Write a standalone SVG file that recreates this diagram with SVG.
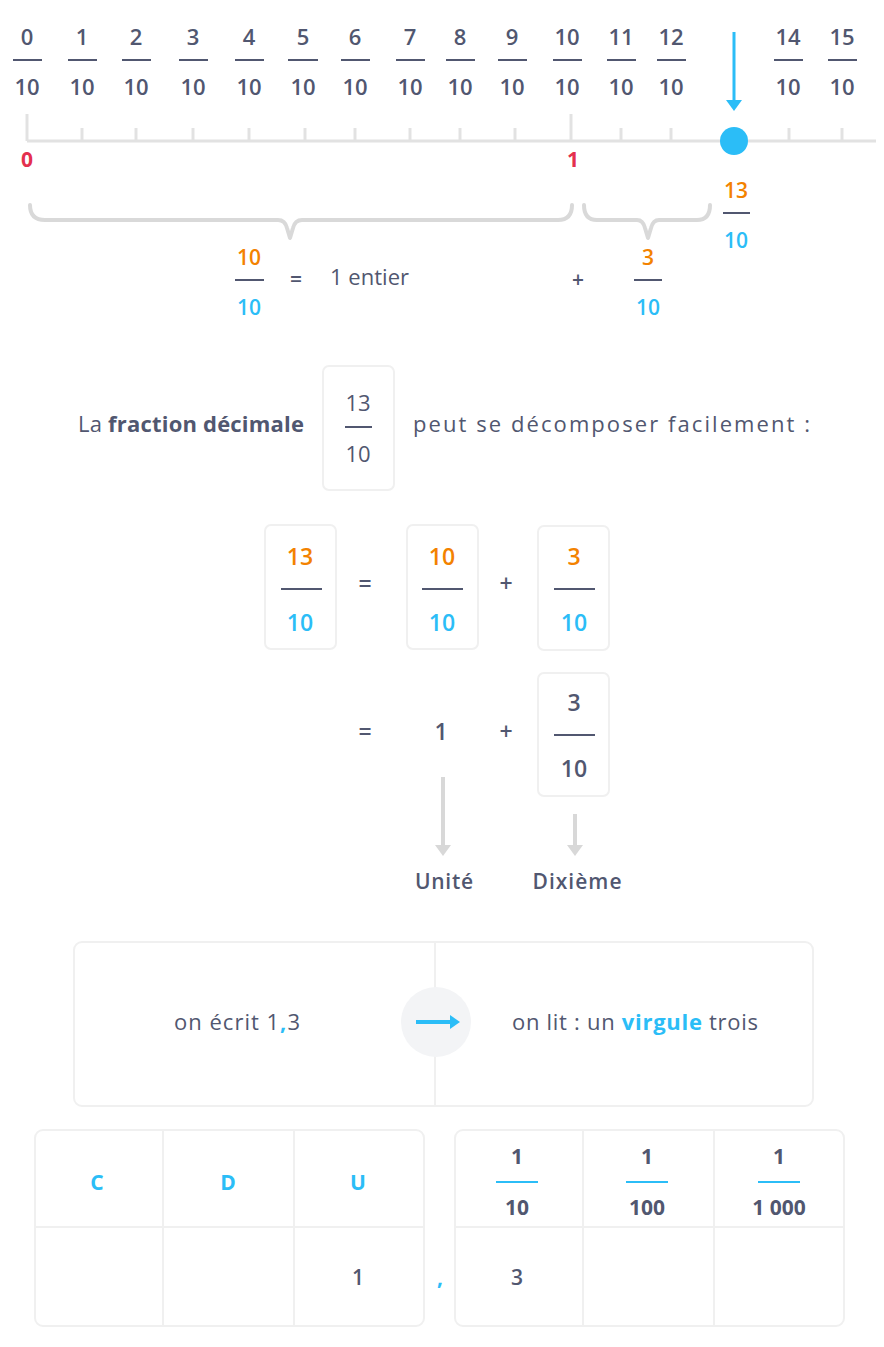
<svg xmlns="http://www.w3.org/2000/svg" width="884" height="1347" viewBox="0 0 884 1347">
<defs>
<style>
text{font-family:"Open Sans",Lato,"Liberation Sans",sans-serif;fill:#515770;text-anchor:middle}
.n{font-size:22px;font-weight:600}
.nb{font-size:23px;font-weight:600}
.t{font-size:20px;font-weight:600}
.tl{font-size:21px;font-weight:600}
.tr{font-size:22px;font-weight:500}
.b{font-weight:700}
.or{fill:#f38200}
.bl{fill:#2bbdf7}
.rd{fill:#e4304e;font-size:21px;font-weight:700}
.bar{stroke:#515770;stroke-width:2}
.tick{stroke:#e2e2e2;stroke-width:3}
.brace{fill:none;stroke:#d9d9d9;stroke-width:4;stroke-linecap:round;stroke-linejoin:round}
.box{fill:#fff;stroke:#f0f0f0;stroke-width:2}
.grid{stroke:#f0f0f0;stroke-width:2}
.garrow{stroke:#d8d8d8;stroke-width:4}
.ghead{fill:#d8d8d8}
.st{text-anchor:start}
</style>
</defs>
<rect width="884" height="1347" fill="#fff"/>

<g id="numberline">
<line x1="27" y1="141" x2="876" y2="141" class="tick"/>
<line x1="27" y1="114" x2="27" y2="141" class="tick"/>
<line x1="571" y1="114" x2="571" y2="141" class="tick"/>
<g class="tick">
<line x1="82" y1="128" x2="82" y2="141"/><line x1="136" y1="128" x2="136" y2="141"/><line x1="193" y1="128" x2="193" y2="141"/><line x1="249" y1="128" x2="249" y2="141"/><line x1="305" y1="128" x2="305" y2="141"/><line x1="355" y1="128" x2="355" y2="141"/><line x1="410" y1="128" x2="410" y2="141"/><line x1="460" y1="128" x2="460" y2="141"/><line x1="515" y1="128" x2="515" y2="141"/><line x1="621" y1="128" x2="621" y2="141"/><line x1="671" y1="128" x2="671" y2="141"/><line x1="789" y1="128" x2="789" y2="141"/><line x1="842" y1="128" x2="842" y2="141"/>
</g>
<text x="27" y="167" class="rd">0</text>
<text x="573" y="167" class="rd">1</text>
<circle cx="734" cy="141" r="14" fill="#2bbdf7"/>
<line x1="734" y1="32" x2="734" y2="102" stroke="#2bbdf7" stroke-width="3"/>
<path d="M726,100 L742,100 L734,111 Z" fill="#2bbdf7"/>
</g>

<g id="nl-fractions" class="n">
<g class="bar">
<line x1="13" y1="60" x2="42" y2="60"/><line x1="68" y1="60" x2="97" y2="60"/><line x1="122" y1="60" x2="151" y2="60"/><line x1="179" y1="60" x2="208" y2="60"/><line x1="235" y1="60" x2="264" y2="60"/><line x1="288" y1="60" x2="318" y2="60"/><line x1="341" y1="60" x2="370" y2="60"/><line x1="396" y1="60" x2="425" y2="60"/><line x1="446" y1="60" x2="475" y2="60"/><line x1="498" y1="60" x2="527" y2="60"/><line x1="553" y1="60" x2="582" y2="60"/><line x1="607" y1="60" x2="636" y2="60"/><line x1="657" y1="60" x2="686" y2="60"/><line x1="774" y1="60" x2="803" y2="60"/><line x1="828" y1="60" x2="857" y2="60"/>
</g>
<text x="27" y="45">0</text><text x="27" y="95">10</text>
<text x="82" y="45">1</text><text x="82" y="95">10</text>
<text x="136" y="45">2</text><text x="136" y="95">10</text>
<text x="193" y="45">3</text><text x="193" y="95">10</text>
<text x="249" y="45">4</text><text x="249" y="95">10</text>
<text x="303" y="45">5</text><text x="303" y="95">10</text>
<text x="355" y="45">6</text><text x="355" y="95">10</text>
<text x="410" y="45">7</text><text x="410" y="95">10</text>
<text x="460" y="45">8</text><text x="460" y="95">10</text>
<text x="512" y="45">9</text><text x="512" y="95">10</text>
<text x="567" y="45">10</text><text x="567" y="95">10</text>
<text x="621" y="45">11</text><text x="621" y="95">10</text>
<text x="671" y="45">12</text><text x="671" y="95">10</text>
<text x="788" y="45">14</text><text x="788" y="95">10</text>
<text x="842" y="45">15</text><text x="842" y="95">10</text>
</g>

<g id="braces">
<path class="brace" d="M30,205 Q30,220 45,220 L278,220 Q285,220 287,228 L290,238 L293,228 Q295,220 302,220 L558,220 Q572,220 572,205"/>
<path class="brace" d="M584,205 Q584,220 597,220 L637,220 Q643,220 645,228 L648,238 L651,228 Q653,220 659,220 L697,220 Q710,220 710,205"/>
</g>

<g id="label-13-10" class="tl">
<text x="736" y="198" class="or">13</text>
<line x1="723" y1="213" x2="750" y2="213" class="bar"/>
<text x="736" y="248" class="bl">10</text>
</g>

<g id="equation-top" class="tl">
<text x="249" y="265" class="or">10</text>
<line x1="235" y1="280" x2="264" y2="280" class="bar"/>
<text x="249" y="315" class="bl">10</text>
<text x="296" y="287">=</text>
<text x="330" y="285" class="st" style="font-weight:500;font-size:22px" textLength="79">1 entier</text>
<text x="578" y="287">+</text>
<text x="648" y="265" class="or">3</text>
<line x1="634" y1="280" x2="662" y2="280" class="bar"/>
<text x="648" y="315" class="bl">10</text>
</g>

<g id="sentence">
<text x="78" y="432" class="tr st" textLength="226">La <tspan class="b">fraction décimale</tspan></text>
<rect x="323" y="366" width="71" height="124" rx="6" class="box"/>
<text x="358" y="411" class="tr">13</text>
<line x1="345" y1="427" x2="372" y2="427" class="bar"/>
<text x="358" y="462" class="tr">10</text>
<text x="413" y="432" class="tr st" textLength="397">peut se décomposer facilement :</text>
</g>

<g id="row1" class="nb">
<rect x="265" y="525" width="71" height="124" rx="6" class="box"/>
<text x="300" y="565" class="or">13</text>
<line x1="281" y1="589" x2="322" y2="589" class="bar"/>
<text x="300" y="631" class="bl">10</text>
<text x="365" y="592">=</text>
<rect x="407" y="525" width="71" height="124" rx="6" class="box"/>
<text x="442" y="565" class="or">10</text>
<line x1="422" y1="589" x2="463" y2="589" class="bar"/>
<text x="442" y="631" class="bl">10</text>
<text x="506" y="592">+</text>
<rect x="538" y="526" width="71" height="124" rx="6" class="box"/>
<text x="574" y="565" class="or">3</text>
<line x1="554" y1="589" x2="595" y2="589" class="bar"/>
<text x="574" y="631" class="bl">10</text>
</g>

<g id="row2" class="nb">
<text x="365" y="740">=</text>
<text x="441" y="740">1</text>
<text x="506" y="740">+</text>
<rect x="538" y="673" width="71" height="123" rx="6" class="box"/>
<text x="574" y="711">3</text>
<line x1="554" y1="735" x2="595" y2="735" class="bar"/>
<text x="574" y="777">10</text>
</g>

<g id="connectors">
<line x1="443" y1="777" x2="443" y2="846" class="garrow"/>
<path d="M435,845 L451,845 L443,856 Z" class="ghead"/>
<line x1="575" y1="814" x2="575" y2="846" class="garrow"/>
<path d="M567,845 L583,845 L575,856 Z" class="ghead"/>
</g>

<g id="labels" class="tl">
<text x="444" y="889" textLength="58">Unité</text>
<text x="577" y="889" textLength="89">Dixième</text>
</g>

<g id="reading-box">
<rect x="74" y="942" width="739" height="164" rx="8" class="box"/>
<line x1="435" y1="943" x2="435" y2="1105" class="grid"/>
<circle cx="436" cy="1022" r="35" fill="#f3f4f6"/>
<line x1="416" y1="1022" x2="452" y2="1022" stroke="#2bbdf7" stroke-width="4"/>
<path d="M450,1015 L460,1022 L450,1029 Z" fill="#2bbdf7"/>
<text x="174" y="1030" class="tr st" textLength="126">on écrit 1<tspan class="bl b">,</tspan>3</text>
<text x="512" y="1030" class="tr st" textLength="246">on lit : un <tspan class="bl b">virgule</tspan> trois</text>
</g>

<g id="table-left">
<rect x="35" y="1130" width="389" height="196" rx="8" class="box"/>
<line x1="163" y1="1131" x2="163" y2="1325" class="grid"/>
<line x1="294" y1="1131" x2="294" y2="1325" class="grid"/>
<line x1="36" y1="1227" x2="423" y2="1227" class="grid"/>
<text x="97" y="1190" class="tl bl b">C</text>
<text x="228" y="1190" class="tl bl b">D</text>
<text x="358" y="1190" class="tl bl b">U</text>
<text x="358" y="1285" class="tl">1</text>
</g>

<text x="440" y="1285" class="tl bl b">,</text>

<g id="table-right">
<rect x="455" y="1130" width="389" height="196" rx="8" class="box"/>
<line x1="583" y1="1131" x2="583" y2="1325" class="grid"/>
<line x1="714" y1="1131" x2="714" y2="1325" class="grid"/>
<line x1="456" y1="1227" x2="843" y2="1227" class="grid"/>
<g class="tl bl b">
<text x="517" y="1164">1</text><text x="517" y="1215">10</text>
<text x="647" y="1164">1</text><text x="647" y="1215">100</text>
<text x="779" y="1164">1</text><text x="779" y="1215">1 000</text>
</g>
<g stroke="#2bbdf7" stroke-width="2">
<line x1="496" y1="1182" x2="538" y2="1182"/>
<line x1="626" y1="1182" x2="668" y2="1182"/>
<line x1="758" y1="1182" x2="800" y2="1182"/>
</g>
<text x="517" y="1285" class="tl">3</text>
</g>
</svg>
